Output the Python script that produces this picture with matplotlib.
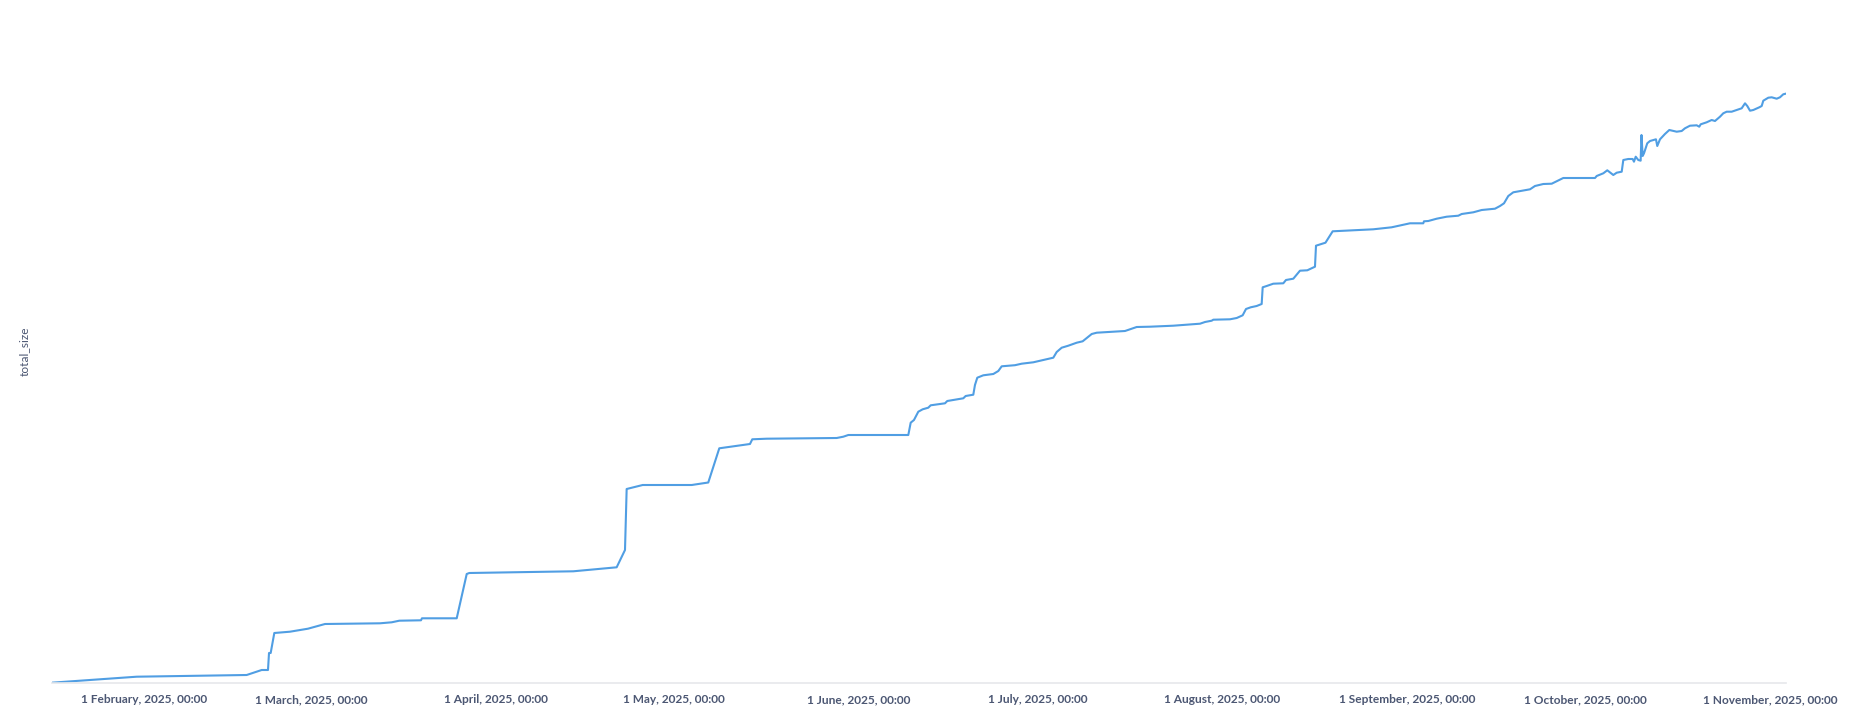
import numpy as np
import pandas as pd
import matplotlib
matplotlib.use("Agg")
import matplotlib.pyplot as plt
import matplotlib.dates as mdates
from matplotlib.ticker import FuncFormatter

# valeurs : jours depuis le 1er janvier 2025, taille cumulée (unité arbitraire)
days = [15.49, 29.76, 48.22, 50.74, 51.80, 51.97, 52.25, 52.86, 55.49, 58.51,
        61.37, 70.60, 72.57, 73.84, 77.48, 77.65, 83.48, 85.16, 85.59, 103.05,
        110.33, 111.73, 112.01, 114.70, 122.93, 125.71, 127.56, 132.71, 133.10, 135.52,
        147.27, 148.38, 149.22, 159.29, 159.69, 160.24, 160.97, 161.70, 162.64, 163.05,
        165.45, 165.83, 168.52, 168.92, 170.20, 170.48, 170.87, 171.88, 173.56, 174.40,
        174.97, 177.20, 178.32, 180.27, 183.63, 184.20, 185.04, 186.15, 187.56, 188.56,
        189.50, 190.08, 190.92, 195.67, 197.63, 199.86, 203.78, 208.26, 209.10, 210.22,
        210.49, 213.29, 214.42, 215.42, 215.98, 216.77, 217.77, 218.61, 218.78, 219.45,
        220.56, 222.24, 222.69, 223.92, 225.04, 226.27, 227.56, 227.73, 229.32, 230.53,
        237.35, 240.43, 243.51, 245.74, 245.86, 246.58, 247.99, 249.67, 251.62, 252.19,
        254.14, 255.55, 257.78, 258.62, 259.29, 260.01, 260.85, 263.66, 264.49, 265.89,
        267.30, 269.24, 274.57, 274.85, 275.96, 276.63, 277.64, 278.21, 279.05, 279.32,
        280.15, 280.89, 281.11, 281.40, 281.83, 282.23, 282.37, 282.57, 282.79, 283.34,
        283.80, 284.80, 285.02, 285.48, 286.31, 287.04, 288.28, 289.12, 289.67, 290.51,
        291.64, 292.07, 292.31, 293.31, 294.15, 294.71, 295.55, 296.10, 296.67, 297.51,
        299.19, 299.75, 300.13, 300.59, 301.14, 302.15, 302.55, 302.82, 303.66, 304.23,
        305.07, 305.62, 306.17, 306.58]

total_size = [0.6, 6.6, 8.3, 13.3, 13.3, 30.3, 30.3, 50.3, 51.6, 54.6,
              59.3, 60.0, 61.0, 62.6, 63.0, 65.0, 65.0, 109.3, 110.3, 112.0,
              116.0, 133.3, 194.3, 198.3, 198.3, 200.8, 235.0, 239.3, 244.0, 244.6,
              245.3, 246.6, 248.3, 248.3, 260.6, 263.3, 271.6, 274.0, 275.6, 278.0,
              280.0, 282.3, 285.0, 287.3, 288.6, 298.3, 305.6, 308.0, 309.3, 312.3,
              317.0, 318.1, 319.6, 321.0, 325.6, 331.3, 335.6, 337.6, 340.6, 342.0,
              346.6, 349.3, 350.6, 352.3, 356.3, 356.6, 357.6, 359.6, 361.3, 362.6,
              363.6, 364.0, 365.3, 368.0, 374.3, 376.0, 377.3, 379.3, 396.0, 397.3,
              399.6, 400.0, 403.3, 404.6, 412.6, 413.0, 416.6, 437.6, 440.6, 452.0,
              454.0, 456.0, 460.0, 460.0, 462.0, 462.3, 464.6, 466.6, 467.6, 469.3,
              471.0, 473.3, 474.6, 477.3, 480.0, 487.3, 491.0, 494.0, 497.3, 499.3,
              499.6, 505.3, 505.3, 507.3, 510.0, 513.0, 508.3, 510.6, 511.6, 523.3,
              524.3, 524.3, 521.6, 526.6, 523.3, 522.6, 548.3, 527.3, 530.0, 540.0,
              542.3, 544.0, 537.3, 544.0, 549.3, 553.3, 551.6, 552.3, 555.0, 557.6,
              558.0, 556.6, 559.0, 561.0, 563.3, 562.3, 566.6, 570.0, 571.6, 571.6,
              575.0, 580.0, 577.3, 572.6, 573.3, 576.0, 577.3, 582.6, 585.6, 586.0,
              584.6, 586.0, 589.0, 589.6]

tick_months = pd.date_range("2025-02-01", "2025-11-01", freq="MS")

dates = pd.Timestamp("2025-01-01") + pd.to_timedelta(days, unit="D")

TEXT_COLOR = "#4c5773"
LINE_COLOR = "#509ee3"

plt.rcParams["font.family"] = ["Lato", "DejaVu Sans"]

W, H = 1852, 717
fig = plt.figure(figsize=(W / 100, H / 100), dpi=100)
ax = fig.add_axes([51.7 / W, (H - 683.3) / H, (1785.7 - 51.7) / W, 664.6 / H])

ax.plot(dates, total_size, color=LINE_COLOR, linewidth=1.5, solid_joinstyle="round")

ax.set_xlim(dates[0], dates[-1])
ax.set_ylim(0, 664.6)

for side in ["top", "right", "left"]:
    ax.spines[side].set_visible(False)
ax.spines["bottom"].set_color("#e6e8eb")
ax.spines["bottom"].set_linewidth(1.2)

ax.set_yticks([])
ax.set_xticks(mdates.date2num(tick_months))
ax.xaxis.set_major_formatter(FuncFormatter(
    lambda v, pos: (lambda d: f"{d.day} {d:%B}, {d:%Y}, {d:%H:%M}")(mdates.num2date(v))))
ax.tick_params(axis="x", length=0, pad=8, labelsize=8.6, labelcolor=TEXT_COLOR)
for lbl in ax.get_xticklabels():
    lbl.set_fontweight("bold")

fig.text(24 / W, 1 - 351 / H, "total_size", rotation=90, ha="center", va="center",
         fontsize=8.6, color=TEXT_COLOR)

fig.savefig("out.png", dpi=100, facecolor="white")
